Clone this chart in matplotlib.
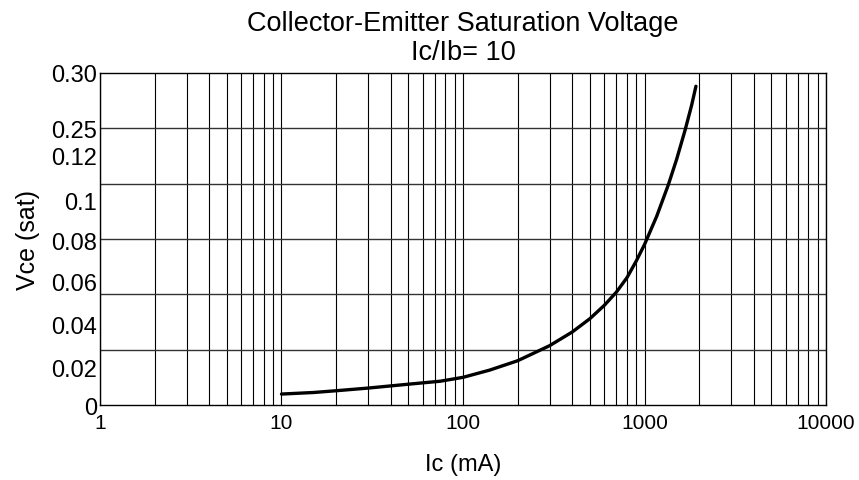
import matplotlib
matplotlib.use("Agg")
import matplotlib.pyplot as plt
from matplotlib.ticker import LogLocator, NullFormatter, FixedLocator, FixedFormatter

plt.rcParams['font.family'] = ['Liberation Sans', 'DejaVu Sans']

ic_ma = [10, 15, 20, 30, 50, 75, 100, 140, 200, 300, 400, 500, 600, 700, 800, 900, 1000,
         1167, 1353, 1503, 1671, 1817, 1920]
vce = [0.0099, 0.0113, 0.0129, 0.0153, 0.0188, 0.0215, 0.0250, 0.0315, 0.0400, 0.0536, 0.0660,
       0.0780, 0.0900, 0.1020, 0.1150, 0.1300, 0.1450, 0.1705, 0.1990, 0.2220, 0.2480, 0.2707, 0.2880]

ytick_pos = [0.0, 0.034, 0.073, 0.112, 0.149, 0.185, 0.225, 0.250, 0.300]
ytick_labels = ['0', '0.02', '0.04', '0.06', '0.08', '0.1', '0.12', '0.25', '0.30']
ygrid = [0.05, 0.10, 0.15, 0.20, 0.25]
xtick_pos = [1, 10, 100, 1000, 10000]
xtick_labels = ['1', '10', '100', '1000', '10000']

fig = plt.figure(figsize=(8.59, 4.81), dpi=100)
ax = fig.add_axes([0.1164, 0.1559, 0.8452, 0.6903])

ax.set_xscale('log')
ax.set_xlim(1, 10000)
ax.set_ylim(0, 0.30)

ax.xaxis.set_major_locator(FixedLocator(xtick_pos))
ax.xaxis.set_major_formatter(FixedFormatter(xtick_labels))
ax.xaxis.set_minor_locator(LogLocator(base=10, subs=range(2, 10)))
ax.xaxis.set_minor_formatter(NullFormatter())
ax.grid(True, which='both', axis='x', color='black', lw=0.8)
for y in ygrid:
    ax.axhline(y, color='#333333', lw=1.0)

ax.plot(ic_ma, vce, color='black', lw=2.4, solid_capstyle='round', solid_joinstyle='round')

ax.yaxis.set_major_locator(FixedLocator(ytick_pos))
ax.yaxis.set_major_formatter(FixedFormatter(ytick_labels))
ax.tick_params(axis='both', which='both', length=0)
ax.tick_params(axis='y', labelsize=17, pad=2)
ax.tick_params(axis='x', labelsize=15, pad=6)

for s in ax.spines.values():
    s.set_linewidth(1.0)

ax.set_xlabel('Ic (mA)', fontsize=17, labelpad=15)
ax.set_ylabel('Vce (sat)', fontsize=18, labelpad=8)
ax.set_title('Collector-Emitter Saturation Voltage\nIc/Ib= 10', fontsize=19.5, pad=10, linespacing=1.15)

fig.savefig('out.png', dpi=100)
